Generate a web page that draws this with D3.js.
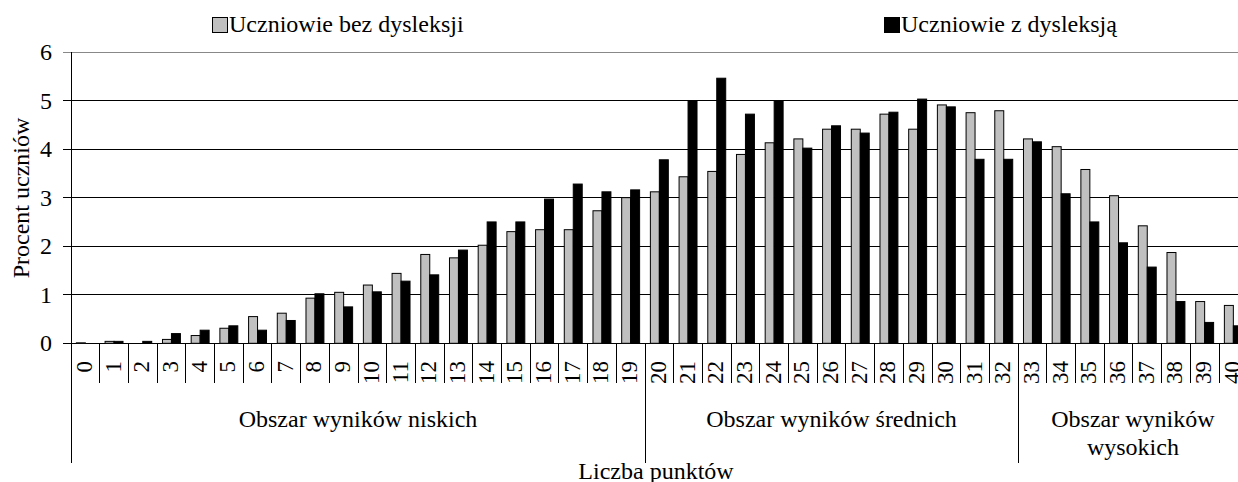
<!DOCTYPE html>
<html>
<head>
<meta charset="utf-8">
<script src="https://cdn.jsdelivr.net/npm/d3@7"></script>
<style>
  body { margin: 0; background: #fff; }
  svg { display: block; }
  text { font-family: "Liberation Serif", "Times New Roman", serif; fill: #000; }
</style>
</head>
<body>
<script>
// Liczba punktów 0..40
const categories = d3.range(0, 41).map(String);

const seriesNames = ['Uczniowie bez dysleksji', 'Uczniowie z dysleksją'];

const bezDysleksji = [
  0.01, 0.04, 0.00, 0.08, 0.16, 0.31, 0.55, 0.62, 0.93, 1.05,
  1.20, 1.44, 1.83, 1.76, 2.02, 2.30, 2.34, 2.34, 2.73, 3.00,
  3.12, 3.43, 3.54, 3.89, 4.13, 4.21, 4.41, 4.41, 4.72, 4.41,
  4.91, 4.75, 4.79, 4.21, 4.05, 3.58, 3.04, 2.42, 1.87, 0.86,
  0.78
];

const zDysleksja = [
  0.00, 0.04, 0.04, 0.20, 0.27, 0.36, 0.27, 0.47, 1.02, 0.75,
  1.06, 1.28, 1.41, 1.92, 2.50, 2.50, 2.97, 3.28, 3.12, 3.16,
  3.78, 5.00, 5.46, 4.72, 5.00, 4.02, 4.48, 4.33, 4.76, 5.03,
  4.87, 3.79, 3.79, 4.15, 3.08, 2.50, 2.07, 1.57, 0.86, 0.43,
  0.36
];

const yTicks = [0, 1, 2, 3, 4, 5, 6];

// obszary wyników: etykieta i zakres kategorii
const groups = [
  { label: ['Obszar wyników niskich'], from: 0, to: 19 },
  { label: ['Obszar wyników średnich'], from: 20, to: 32 },
  { label: ['Obszar wyników', 'wysokich'], from: 33, to: 40 }
];

const colors = ['#c0c0c0', '#000000'];

const fontFamily = '"Liberation Serif", "Times New Roman", serif';
const fontSize = 24;

const fullWidth = 1238;
const fullHeight = 482;

// the plot runs a little past the right edge, like the original cut-out
const margin = { top: 52, left: 71 };
const plotWidth = 41 * 28.7;
const plotBottom = 343.3;

const svg = d3.select('body')
  .append('svg')
  .attr('width', fullWidth)
  .attr('height', fullHeight)
  .attr('font-family', fontFamily);

const x = d3.scaleBand()
  .domain(categories)
  .range([margin.left, margin.left + plotWidth])
  .paddingInner(0)
  .paddingOuter(0);

const xSeries = d3.scaleBand()
  .domain([0, 1])
  .range([0, x.bandwidth()])
  .paddingInner(0)
  .paddingOuter(0.6);

const y = d3.scaleLinear()
  .domain([0, 6])
  .range([plotBottom, margin.top]);

// gridlines
svg.append('g')
  .selectAll('line')
  .data(yTicks)
  .enter()
  .append('line')
  .attr('x1', margin.left - 8)
  .attr('x2', margin.left + plotWidth)
  .attr('y1', d => y(d))
  .attr('y2', d => y(d))
  .attr('stroke', (d) => d == 6 ? '#888' : '#000')
  .attr('stroke-width', 1)
  .attr('shape-rendering', 'crispEdges');

// y axis labels
const yAxis = d3.axisLeft(y)
  .tickValues(yTicks)
  .tickFormat(d3.format('d'))
  .tickSize(0)
  .tickPadding(19);

svg.append('g')
  .attr('class', 'y axis')
  .attr('transform', `translate(${margin.left}, 0)`)
  .call(yAxis)
  .call(g => g.select('.domain').remove())
  .call(g => g.attr('font-family', fontFamily).attr('font-size', fontSize))
  .call(g => g.selectAll('text').attr('fill', '#000'));

// bars
const series = [bezDysleksji, zDysleksja];

series.forEach((values, s) => {
  svg.append('g')
    .selectAll('rect')
    .data(values)
    .enter()
    .append('rect')
    .attr('x', (d, i) => x(categories[i]) + xSeries(s))
    .attr('width', xSeries.bandwidth())
    .attr('y', d => y(d))
    .attr('height', d => plotBottom - y(d))
    .attr('fill', colors[s])
    .attr('stroke', d => d > 0 ? '#000' : 'none')
    .attr('stroke-width', 1);
});

// vertical axis line, goes all the way down through the category area
svg.append('line')
  .attr('x1', margin.left)
  .attr('x2', margin.left)
  .attr('y1', margin.top)
  .attr('y2', 463)
  .attr('stroke', '#000')
  .attr('shape-rendering', 'crispEdges');

// category ticks
svg.append('g')
  .selectAll('line')
  .data(categories.slice(1))
  .enter()
  .append('line')
  .attr('x1', d => x(d))
  .attr('x2', d => x(d))
  .attr('y1', plotBottom)
  .attr('y2', 383)
  .attr('stroke', '#000')
  .attr('shape-rendering', 'crispEdges');

// category labels, rotated
svg.append('g')
  .selectAll('text')
  .data(categories)
  .enter()
  .append('text')
  .text(d => d)
  .attr('font-size', 23)
  .attr('text-anchor', 'end')
  .attr('dominant-baseline', 'central')
  .attr('transform', d => `translate(${x(d) + x.bandwidth() / 2 - 1}, 361) rotate(-90)`);

// group separators
svg.append('g')
  .selectAll('line')
  .data(groups.slice(1))
  .enter()
  .append('line')
  .attr('x1', d => x(categories[d.from]))
  .attr('x2', d => x(categories[d.from]))
  .attr('y1', plotBottom)
  .attr('y2', 463)
  .attr('stroke', '#000')
  .attr('shape-rendering', 'crispEdges');

// group labels
const groupText = svg.append('g')
  .selectAll('text')
  .data(groups)
  .enter()
  .append('text')
  .attr('font-size', fontSize)
  .attr('text-anchor', 'middle')
  .attr('x', d => (x(categories[d.from]) + x(categories[d.to]) + x.bandwidth()) / 2)
  .attr('y', 427);

groupText.selectAll('tspan')
  .data(d => d.label.map(l => ({ l, cx: (x(categories[d.from]) + x(categories[d.to]) + x.bandwidth()) / 2 })))
  .enter()
  .append('tspan')
  .attr('x', d => d.cx)
  .attr('dy', (d, i) => i == 0 ? 0 : 27.5)
  .text(d => d.l);

// axis titles
svg.append('text')
  .text('Liczba punktów')
  .attr('font-size', fontSize)
  .attr('text-anchor', 'middle')
  .attr('x', 656)
  .attr('y', 479);

svg.append('text')
  .text('Procent uczniów')
  .attr('font-size', fontSize)
  .attr('text-anchor', 'middle')
  .attr('transform', 'translate(29, 198) rotate(-90)');

// legend
const legendPos = [212, 884];

const legend = svg.append('g')
  .selectAll('g')
  .data(seriesNames)
  .enter()
  .append('g')
  .attr('transform', (d, i) => `translate(${legendPos[i]}, 17)`);

legend.append('rect')
  .attr('x', 0.5)
  .attr('y', 0.5)
  .attr('width', 15)
  .attr('height', 15)
  .attr('fill', (d, i) => colors[i])
  .attr('stroke', '#000');

legend.append('text')
  .text(d => d)
  .attr('font-size', fontSize)
  .attr('x', 17)
  .attr('y', 15);
</script>
</body>
</html>
